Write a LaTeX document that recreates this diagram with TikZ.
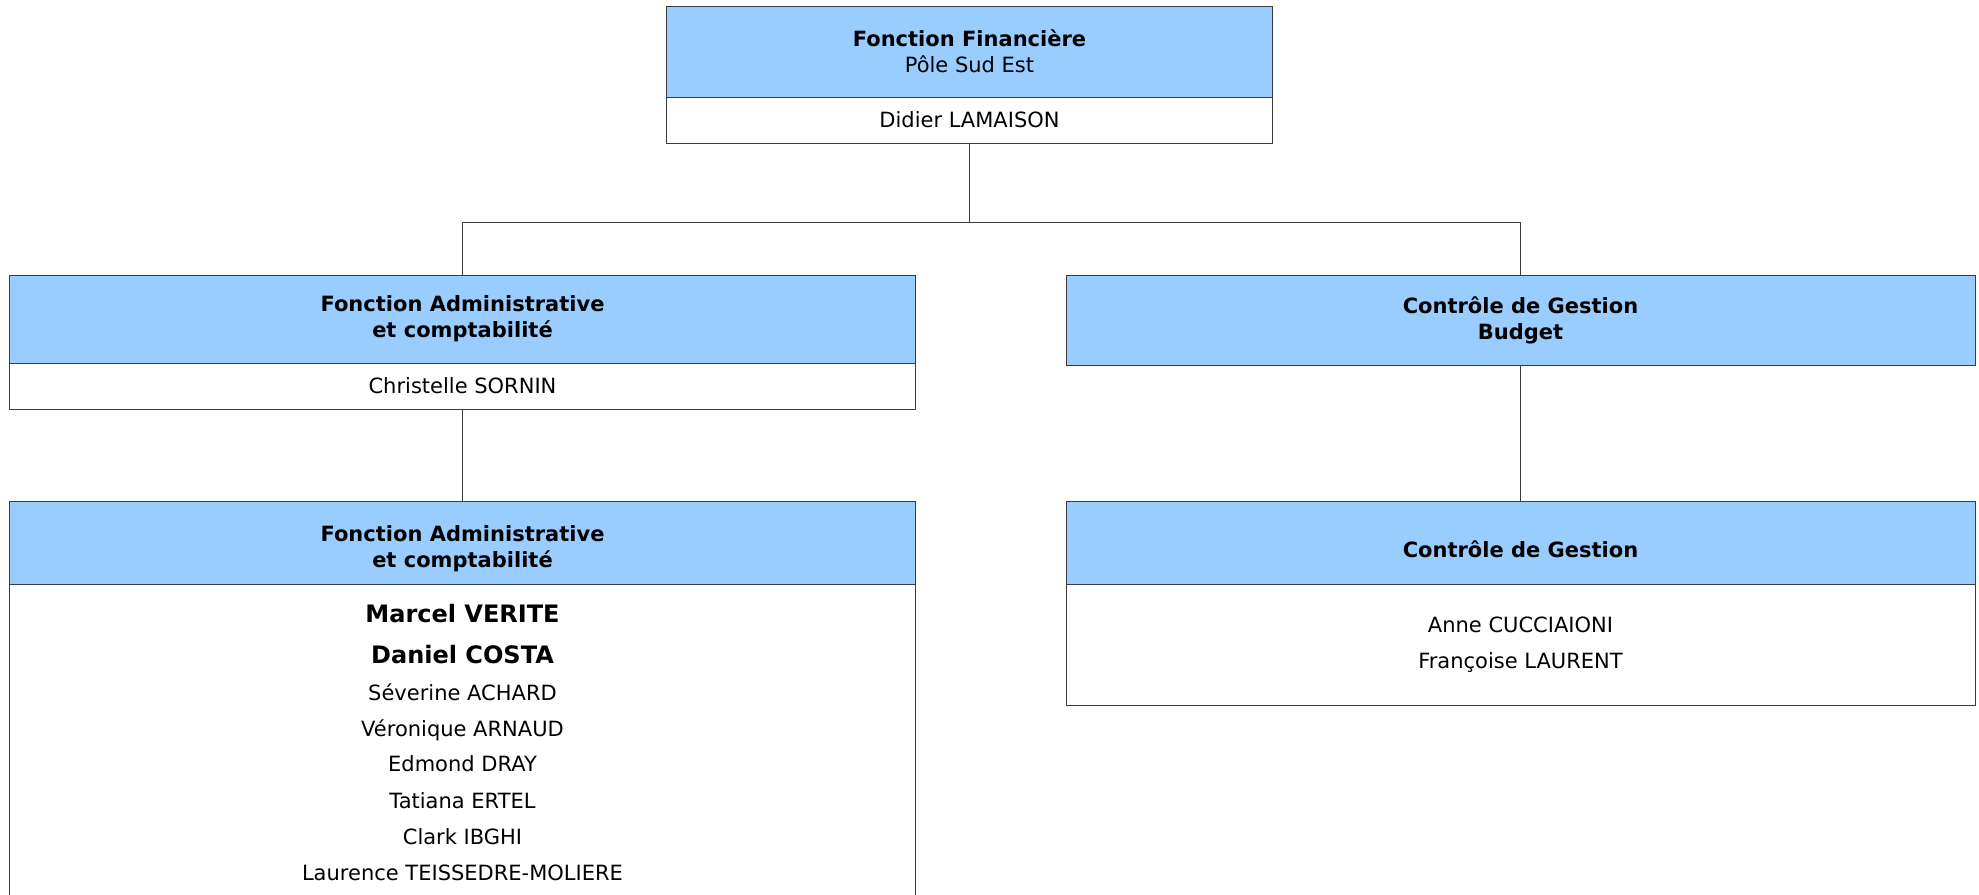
\documentclass[tikz,border=0pt]{standalone}
\usepackage{fontspec}
\setmainfont{DejaVu Sans}
\usetikzlibrary{positioning}

\definecolor{headblue}{RGB}{153,204,255}
\definecolor{framegray}{RGB}{60,60,60}

\tikzset{
  head/.style={draw=framegray, fill=headblue, line width=0.5pt, inner sep=0pt, outer sep=0pt,
    align=center, font=\fontsize{10.5}{13}\selectfont\bfseries},
  body/.style={draw=framegray, fill=white, line width=0.5pt, inner sep=0pt, outer sep=0pt,
    align=center, font=\fontsize{10.5}{18}\selectfont},
  headtext/.style={align=center, inner sep=0pt, font=\fontsize{10.5}{13}\selectfont\bfseries},
  staff/.style={anchor=base, inner sep=0pt, font=\fontsize{10.5}{13}\selectfont},
  lead/.style={anchor=base, inner sep=0pt, font=\fontsize{12}{14}\selectfont\bfseries},
  link/.style={draw=framegray, line width=0.6pt}
}

\begin{document}
\begin{tikzpicture}[x=0.5pt, y=-0.5pt]
        \useasboundingbox (0,0) rectangle (1979,894);

        % Fonction Financiere
        \node[head, minimum width=303pt, minimum height=45.5pt] (fin) at (969.5,51.5) {Fonction Financière\\\mdseries Pôle Sud Est};
        \node[body, minimum width=303pt, minimum height=23pt, below=0pt of fin] (finname) {Didier LAMAISON};

        % Fonction Administrative
        \node[head, minimum width=453pt, minimum height=44pt] (adm) at (462.5,319) {Fonction Administrative\\et comptabilité};
        \node[body, minimum width=453pt, minimum height=23pt, below=0pt of adm] (admname) {Christelle SORNIN};

        % Controle de Gestion
        \node[head, minimum width=454.5pt, minimum height=45pt] (cdg) at (1520.5,320) {Contrôle de Gestion\\Budget};

        % Teams
        \node[head, minimum width=453pt, minimum height=41.5pt] (admteam) at (462.5,542.5) {};
        \node[body, minimum width=453pt, minimum height=156.5pt, below=0pt of admteam] (admlist) {};
        \node[head, minimum width=454.5pt, minimum height=41.5pt] (cdgteam) at (1520.5,542.5) {};
        \node[body, minimum width=454.5pt, minimum height=60.5pt, below=0pt of cdgteam] (cdglist) {Anne CUCCIAIONI\\Françoise LAURENT};

        \node[headtext] (admtitle) at (462.5,549) {Fonction Administrative\\et comptabilité};
        \node[headtext] (cdgtitle) at (1520.5,549) {Contrôle de Gestion};

        % Staff
        \node[lead] (verite) at (462.5,622.7) {Marcel VERITE};
        \node[lead] (costa) at (462.5,663.7) {Daniel COSTA};
        \node[staff] (achard) at (462.5,700.7) {Séverine ACHARD};
        \node[staff] (arnaud) at (462.5,736.7) {Véronique ARNAUD};
        \node[staff] (dray) at (462.5,771.7) {Edmond DRAY};
        \node[staff] (ertel) at (462.5,808.7) {Tatiana ERTEL};
        \node[staff] (ibghi) at (462.5,844.7) {Clark IBGHI};
        \node[staff] (teissedre) at (462.5,880.7) {Laurence TEISSEDRE-MOLIERE};

        % Connections
        \coordinate (fork) at (969.5,222.5);
        \draw[link] (finname.south) -- (fork);
        \draw[link] (adm.north) |- (fork) -| (cdg.north);
        \draw[link] (admname.south) -- (admteam.north);
        \draw[link] (cdg.south) -- (cdgteam.north);
    \end{tikzpicture}
\end{document}
